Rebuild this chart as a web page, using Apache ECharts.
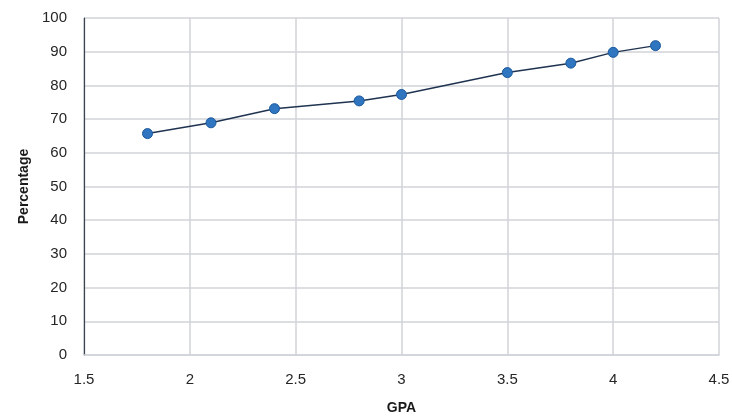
<!DOCTYPE html>
<html>
<head>
<meta charset="utf-8">
<script src="https://cdn.jsdelivr.net/npm/echarts@6/dist/echarts.min.js"></script>
<style>
  html, body { margin: 0; padding: 0; background: #ffffff; }
  #chart { width: 732px; height: 416px; }
</style>
</head>
<body>
<div id="chart"></div>
<script>
// GPA vs. percentage
const gpa = [1.8, 2.1, 2.4, 2.8, 3.0, 3.5, 3.8, 4.0, 4.2];
const percentage = [65.7, 68.9, 73.1, 75.4, 77.3, 83.8, 86.6, 89.8, 91.8];
const xTitle = 'GPA';
const yTitle = 'Percentage';

const points = gpa.map((g, i) => [g, percentage[i]]);

const chart = echarts.init(document.getElementById('chart'), null, { renderer: 'canvas' });

const labelFont = {
  color: '#262626',
  fontSize: 15,
  fontFamily: 'Liberation Sans, Arial, sans-serif'
};
const titleFont = {
  color: '#1a1a1a',
  fontSize: 14,
  fontWeight: 'bold',
  fontFamily: 'Liberation Sans, Arial, sans-serif'
};

chart.setOption({
  animation: false,
  backgroundColor: '#ffffff',
  grid: {
    left: 84, right: 13, top: 18, bottom: 61,
    containLabel: false,
    outerBoundsMode: 'none'
  },
  xAxis: {
    type: 'value',
    min: 1.5,
    max: 4.5,
    interval: 0.5,
    name: xTitle,
    nameLocation: 'middle',
    nameGap: 46,
    nameTextStyle: titleFont,
    axisLine: { show: true, lineStyle: { color: '#d0d3d8', width: 1.5 } },
    axisTick: { show: false },
    axisLabel: Object.assign({ margin: 17 }, labelFont),
    splitLine: { show: true, lineStyle: { color: '#d0d3d8', width: 1.5 } }
  },
  yAxis: {
    type: 'value',
    min: 0,
    max: 100,
    interval: 10,
    name: yTitle,
    nameLocation: 'middle',
    nameGap: 52,
    nameRotate: 90,
    nameTextStyle: titleFont,
    axisLine: { show: true, lineStyle: { color: '#3b4350', width: 1.2 } },
    axisTick: { show: false },
    axisLabel: Object.assign({ margin: 17 }, labelFont),
    splitLine: { show: true, lineStyle: { color: '#d0d3d8', width: 1.5 } }
  },
  series: [{
    type: 'line',
    data: points,
    symbol: 'circle',
    symbolSize: 10,
    lineStyle: { color: '#1f3350', width: 1.5 },
    itemStyle: { color: '#2f75c0', borderColor: '#1d5a9e', borderWidth: 1 }
  }]
});
</script>
</body>
</html>
